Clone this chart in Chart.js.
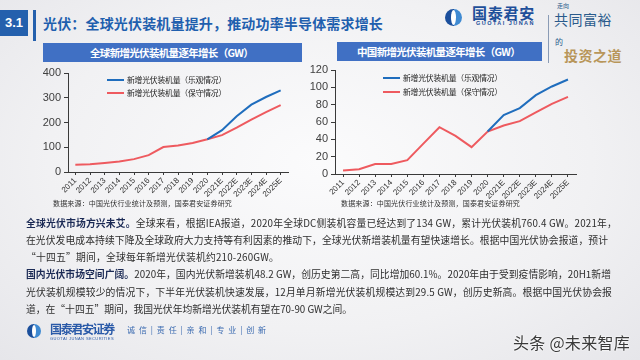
<!DOCTYPE html>
<html>
<head>
<meta charset="utf-8">
<script src="https://cdn.jsdelivr.net/npm/chart.js@4"></script>
<style>
  html, body { margin: 0; padding: 0; }
  body {
    width: 640px; height: 360px; overflow: hidden; position: relative;
    background: radial-gradient(ellipse at 50% 45%, #fbfbfc 0%, #f1f1f3 60%, #e6e6ea 100%);
    font-family: "Noto Sans CJK SC", "Noto Sans", sans-serif;
  }
  .abs { position: absolute; white-space: nowrap; }
  .secno { left: 0; top: 10px; width: 28px; height: 26px; background: #2460ad; color: #fff;
    font: bold 13px/26px "Liberation Sans", Arial, sans-serif; text-align: center; }
  .secbar { left: 33px; top: 10px; width: 3px; height: 31px; background: #2460ad; }
  .title { left: 43px; top: 13px; font-size: 14px; font-weight: bold; color: #1f5fae; line-height: 20px; }
  .cbar { height: 19px; background: #4070c4; }
  .ctitle { color: #fff; font-size: 10.5px; font-weight: bold; line-height: 19px; }
  .legend { font-size: 7.8px; color: #222; line-height: 10px; }
  .legline { position: absolute; height: 2px; width: 17px; }
  .src { font-size: 7px; color: #333; line-height: 10px; }
  .para { left: 26px; font-size: 9.8px; color: #2e2e2e; line-height: 17px; }
  .para b { color: #1b2a55; }
  canvas { position: absolute; }
</style>
</head>
<body>
<div class="abs secno">3.1</div>
<div class="abs secbar"></div>
<div class="abs title" data-w="340">光伏：全球光伏装机量提升，推动功率半导体需求增长</div>

<!-- logo -->
<div class="abs" style="left:445px;top:9px;width:17px;height:17px;border-radius:50%;background:linear-gradient(90deg,#1b4f9c 50%,#3f8ad2 50%);"></div>
<div class="abs" style="left:451px;top:10px;width:5px;height:15px;border-radius:50%;background:#fff;"></div>
<div class="abs" style="left:472px;top:4px;font-size:15px;font-weight:bold;color:#1e4f9a;line-height:18px;" data-w="63">国泰君安</div>
<div class="abs" style="left:476px;top:20px;font:bold 5.5px/7px 'Liberation Sans',Arial,sans-serif;color:#1e4f9a;" data-w="59">GUOTAI JUNAN</div>
<div class="abs" style="left:548px;top:15px;width:1px;height:48px;background:#8a9bb5;"></div>
<div class="abs" style="left:557px;top:2px;font-size:6px;color:#2a5b8c;line-height:8px;">走向</div>
<div class="abs" style="left:554px;top:9px;font-size:14px;color:#2a5b8c;line-height:20px;" data-w="58">共同富裕</div>
<div class="abs" style="left:555px;top:37px;font-size:8px;color:#2a5b8c;line-height:10px;">的</div>
<div class="abs" style="left:564px;top:45px;font-size:14px;font-weight:bold;color:#b8965a;line-height:20px;" data-w="58">投资之道</div>

<!-- chart title bars -->
<div class="abs cbar" style="left:43px;top:43px;width:259px;"></div>
<div class="abs ctitle" style="left:90px;top:43px;" data-w="163">全球新增光伏装机量逐年增长（GW）</div>
<div class="abs cbar" style="left:337px;top:42px;width:205px;"></div>
<div class="abs ctitle" style="left:357px;top:42px;" data-w="163">中国新增光伏装机量逐年增长（GW）</div>

<canvas id="chartGlobal" width="300" height="150" style="left:0;top:60px;width:300px;height:150px;"></canvas>
<canvas id="chartChina" width="300" height="150" style="left:300px;top:60px;width:300px;height:150px;"></canvas>

<!-- legends -->
<div class="legline" style="left:107px;top:79px;background:#1f6dbd;"></div>
<div class="abs legend" style="left:127px;top:75px;" data-w="99">新增光伏装机量（乐观情况）</div>
<div class="legline" style="left:107px;top:92px;background:#ee5a5f;"></div>
<div class="abs legend" style="left:127px;top:88px;" data-w="99">新增光伏装机量（保守情况）</div>
<div class="legline" style="left:383px;top:77px;background:#1f6dbd;"></div>
<div class="abs legend" style="left:403px;top:73px;" data-w="99">新增光伏装机量（乐观情况）</div>
<div class="legline" style="left:383px;top:91px;background:#ee5a5f;"></div>
<div class="abs legend" style="left:403px;top:87px;" data-w="99">新增光伏装机量（保守情况）</div>

<div class="abs src" style="left:53px;top:198px;" data-w="179">数据来源：中国光伏行业统计及预测，国泰君安证券研究</div>
<div class="abs src" style="left:341px;top:198px;" data-w="179">数据来源：中国光伏行业统计及预测，国泰君安证券研究</div>

<!-- text -->
<div class="abs para" style="top:215px;" data-w="591"><b>全球光伏市场方兴未艾。</b>全球来看，根据IEA报道，2020年全球DC侧装机容量已经达到了134 GW，累计光伏装机760.4 GW。2021年，</div>
<div class="abs para" style="top:232px;" data-w="582">在光伏发电成本持续下降及全球政府大力支持等有利因素的推动下，全球光伏新增装机量有望快速增长。根据中国光伏协会报道，预计</div>
<div class="abs para" style="top:249px;" data-w="253">“十四五”期间，全球每年新增光伏装机约210-260GW。</div>
<div class="abs para" style="top:266px;" data-w="585"><b>国内光伏市场空间广阔。</b>2020年，国内光伏新增装机48.2 GW，创历史第二高，同比增加60.1%。2020年由于受到疫情影响，20H1新增</div>
<div class="abs para" style="top:284px;" data-w="586">光伏装机规模较少的情况下，下半年光伏装机快速发展，12月单月新增光伏装机规模达到29.5 GW，创历史新高。根据中国光伏协会报</div>
<div class="abs para" style="top:301px;" data-w="326">道，在“十四五”期间，我国光伏年均新增光伏装机有望在70-90 GW之间。</div>

<!-- footer -->
<div class="abs" style="left:27px;top:324px;width:14px;height:14px;border-radius:50%;background:linear-gradient(90deg,#1b4f9c 50%,#3f8ad2 50%);"></div>
<div class="abs" style="left:32px;top:325px;width:4px;height:12px;border-radius:50%;background:#fff;"></div>
<div class="abs" style="left:50px;top:322px;font-size:12px;font-weight:bold;color:#2a5aa8;line-height:14px;" data-w="64">国泰君安证券</div>
<div class="abs" style="left:50px;top:336px;font:4px/5px 'Liberation Sans',Arial,sans-serif;color:#2a5aa8;" data-w="64">GUOTAI JUNAN SECURITIES</div>
<div class="abs" style="left:127px;top:324px;font-size:8px;color:#3a6ab0;line-height:12px;" data-w="143">诚信|责任|亲和|专业|创新</div>
<div class="abs" style="left:513px;top:331px;font-size:16px;color:#3a3a3a;line-height:22px;text-shadow:0 0 2px #fff,0 0 2px #fff;" data-w="117">头条 @未来智库</div>

<script>
const years = ['2011', '2012', '2013', '2014', '2015', '2016', '2017', '2018', '2019', '2020',
  '2021E', '2022E', '2023E', '2024E', '2025E'];

// 全球新增光伏装机量 (GW)
const globalOptimistic = [null, null, null, null, null, null, null, null, null, 132, 169, 225, 272, 303, 330];
const globalConservative = [29, 31, 36, 42, 52, 68, 101, 107, 117, 132, 149, 179, 212, 242, 270];
const globalTicks = { min: 0, max: 400, step: 100 };

// 中国新增光伏装机量 (GW)
const chinaOptimistic = [null, null, null, null, null, null, null, null, null, 49, 68, 76, 91, 101, 109];
const chinaConservative = [4, 5.5, 11.5, 11.5, 16, 35, 54, 44, 31, 49, 56, 61, 71, 81, 89];
const chinaTicks = { min: 0, max: 120, step: 20 };

const seriesNames = ['新增光伏装机量（乐观情况）', '新增光伏装机量（保守情况）'];
const BLUE = '#1f6dbd';
const RED = '#ee5a5f';
const AXIS = '#3a3a3a';

// stretch / squeeze each text line to the width it has in the slide
document.querySelectorAll('[data-w]').forEach(el => {
  const target = parseFloat(el.dataset.w);
  const natural = el.getBoundingClientRect().width;
  const n = [...el.textContent].length;
  el.style.letterSpacing = ((target - natural) / n).toFixed(3) + 'px';
});

const buildChart = (canvasId, optimistic, conservative, ticks, box) => {
  const ctx = document.getElementById(canvasId);
  return new Chart(ctx, {
    type: 'line',
    data: {
      labels: years,
      datasets: [
        { label: seriesNames[0], data: optimistic, borderColor: BLUE, borderWidth: 2, pointRadius: 0, tension: 0 },
        { label: seriesNames[1], data: conservative, borderColor: RED, borderWidth: 2, pointRadius: 0, tension: 0 }
      ]
    },
    options: {
      responsive: false,
      animation: false,
      layout: { padding: { top: box.top, right: box.right, left: 0, bottom: 0 } },
      plugins: { legend: { display: false }, tooltip: { enabled: false } },
      scales: {
        x: {
          offset: true,
          border: { display: true, color: AXIS, width: 1 },
          grid: { drawOnChartArea: false, drawTicks: true, tickLength: 3, color: AXIS },
          ticks: {
            color: '#333', font: { size: 8, family: 'Liberation Sans' },
            minRotation: 45, maxRotation: 45, padding: 1, autoSkip: false
          },
          afterFit: s => { s.height = box.xHeight; }
        },
        y: {
          min: ticks.min, max: ticks.max,
          border: { display: true, color: AXIS, width: 1 },
          grid: { drawOnChartArea: false, drawTicks: true, tickLength: 4, color: AXIS },
          ticks: { stepSize: ticks.step, color: '#404040', font: { size: 11, family: 'Liberation Sans' }, padding: 3 },
          afterFit: s => { s.width = box.yWidth; }
        }
      }
    }
  });
};

buildChart('chartGlobal', globalOptimistic, globalConservative, globalTicks,
  { top: 13, right: 12, yWidth: 68, xHeight: 38 });
buildChart('chartChina', chinaOptimistic, chinaConservative, chinaTicks,
  { top: 10, right: 24, yWidth: 35, xHeight: 36 });
</script>
</body>
</html>
